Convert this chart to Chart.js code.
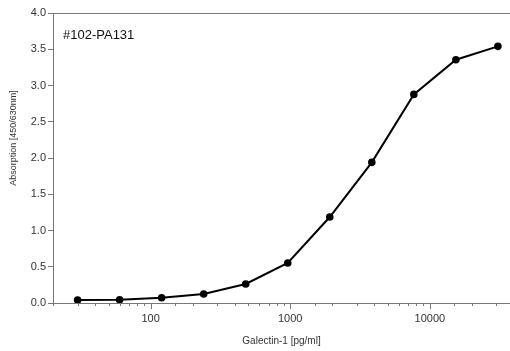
<!DOCTYPE html>
<html>
<head>
<meta charset="utf-8">
<script src="https://cdn.jsdelivr.net/npm/chart.js@4/dist/chart.umd.min.js"></script>
<style>
  html, body { margin: 0; padding: 0; background: #fff; }
  #wrap { width: 510px; height: 351px; }
</style>
</head>
<body>
<div id="wrap"><canvas id="elisaChart" width="510" height="351"></canvas></div>
<script>
// galectin-1 standard curve, 2-fold dilutions
const concentrations = [30, 60, 120, 240, 480, 960, 1920, 3840, 7680, 15360, 30720];
const absorbance = [0.04, 0.045, 0.073, 0.124, 0.262, 0.552, 1.186, 1.94, 2.877, 3.356, 3.54];
const yTicks = [0, 0.5, 1, 1.5, 2, 2.5, 3, 3.5, 4];
const xLabels = [100, 1000, 10000];
const sampleName = "#102-PA131";
const yTitle = "Absorption [450/630nm]";

const axisColor = "#777";
const textColor = "#333";
const fontFamily = "'Liberation Sans', Arial, sans-serif";

// top frame line, inset label, y title (sits a bit above centre) and x tick marks
const extras = {
  id: "extras",
  afterDraw(chart) {
    const ctx = chart.ctx;
    const area = chart.chartArea;
    const x = chart.scales.x;
    ctx.save();
    ctx.strokeStyle = axisColor;
    ctx.lineWidth = 1;
    ctx.beginPath();
    ctx.moveTo(area.left, area.top + 0.5);
    ctx.lineTo(area.right, area.top + 0.5);
    x.ticks.forEach((t) => {
      const px = Math.round(x.getPixelForValue(t.value)) + 0.5;
      const big = xLabels.includes(t.value);
      ctx.moveTo(px, area.bottom);
      ctx.lineTo(px, area.bottom + (big ? 6 : 3));
    });
    ctx.stroke();

    ctx.fillStyle = "#111";
    ctx.font = "13px " + fontFamily;
    ctx.textBaseline = "middle";
    ctx.fillText(sampleName, area.left + 10, area.top + 22);

    ctx.translate(14, (area.top + area.bottom) / 2 - 20);
    ctx.rotate(-Math.PI / 2);
    ctx.fillStyle = textColor;
    ctx.font = "9px " + fontFamily;
    ctx.textAlign = "center";
    ctx.fillText(yTitle, 0, 0);
    ctx.restore();
  },
};

const elisaChart = new Chart(document.getElementById("elisaChart").getContext("2d"), {
  type: "line",
  data: {
    datasets: [
      {
        data: concentrations.map((c, i) => ({ x: c, y: absorbance[i] })),
        borderColor: "#000",
        backgroundColor: "#000",
        borderWidth: 2,
        pointRadius: 2.8,
        pointHoverRadius: 2.8,
        tension: 0,
      },
    ],
  },
  options: {
    responsive: false,
    animation: false,
    layout: { autoPadding: false, padding: { top: 13, right: 0, left: 0, bottom: 0 } },
    plugins: { legend: { display: false }, tooltip: { enabled: false } },
    scales: {
      x: {
        type: "logarithmic",
        min: 20,
        max: 37500,
        afterFit: (s) => {
          s.height = 48;
          s.paddingLeft = 0;
          s.paddingRight = 0;
        },
        grid: { display: true, drawOnChartArea: false, drawTicks: false, tickLength: 6, color: "transparent" },
        border: { display: true, color: axisColor, width: 1 },
        ticks: {
          autoSkip: false,
          maxRotation: 0,
          padding: 9,
          color: textColor,
          font: { family: fontFamily, size: 11 },
          callback: (v) => (xLabels.includes(v) ? String(v) : ""),
        },
        title: {
          display: true,
          text: "Galectin-1 [pg/ml]",
          color: textColor,
          font: { family: fontFamily, size: 10 },
          padding: { top: 0, bottom: 4 },
        },
      },
      y: {
        min: 0,
        max: 4,
        afterFit: (s) => {
          s.width = 53;
          s.paddingTop = 0;
          s.paddingBottom = 0;
        },
        afterBuildTicks: (s) => { s.ticks = yTicks.map((v) => ({ value: v })); },
        grid: { drawOnChartArea: false, drawTicks: true, tickLength: 5, color: axisColor },
        border: { display: true, color: axisColor, width: 1 },
        ticks: {
          padding: 2,
          color: textColor,
          font: { family: fontFamily, size: 11 },
          callback: (v) => v.toFixed(1),
        },
      },
    },
  },
  plugins: [extras],
});
</script>
</body>
</html>
